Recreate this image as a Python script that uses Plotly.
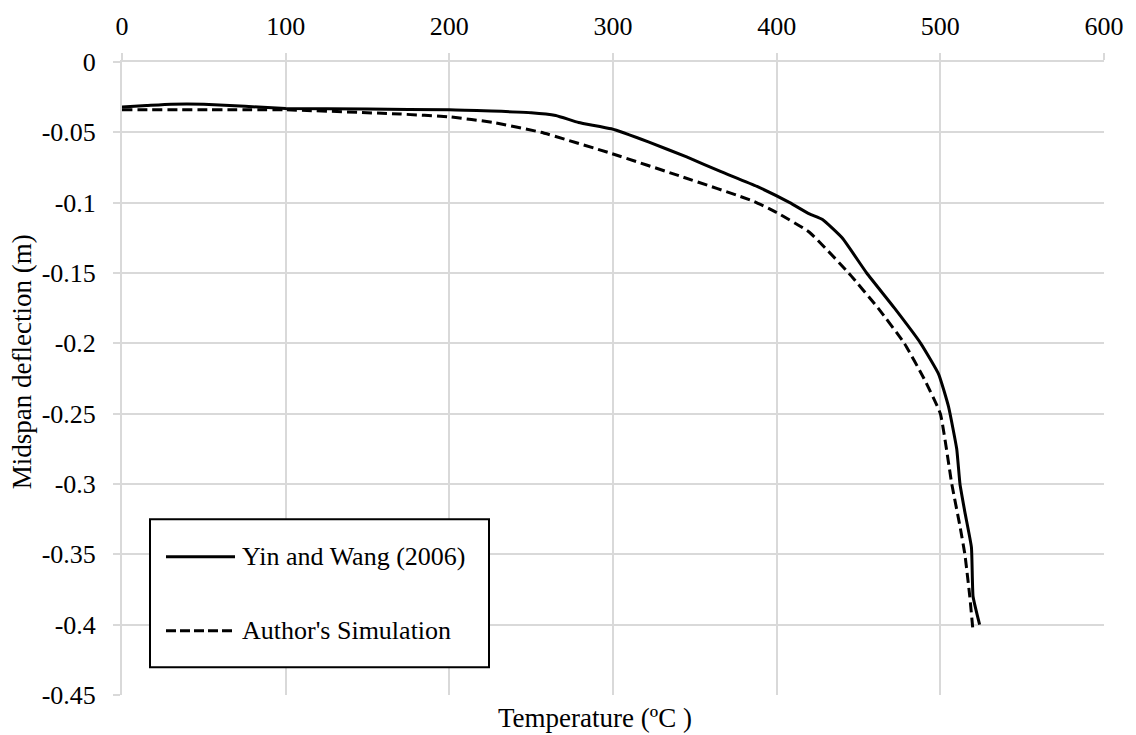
import plotly.graph_objects as go

# Data
yin_temp = [0, 15, 30, 50, 100, 150, 200, 250, 265, 279, 299, 322, 345, 366, 388, 408, 420, 428,
            440, 455, 472, 488, 499, 505, 510, 512, 515, 519, 520, 524]
yin_defl = [-0.032, -0.031, -0.030, -0.030, -0.033, -0.0335, -0.034, -0.036, -0.038, -0.043, -0.0475,
            -0.057, -0.0675, -0.078, -0.0885, -0.100, -0.108, -0.112, -0.125, -0.150, -0.175, -0.200,
            -0.222, -0.245, -0.275, -0.300, -0.320, -0.345, -0.380, -0.400]

sim_temp = [0, 100, 170, 200, 227, 256, 299, 342, 386, 400, 420, 444, 462, 478, 490, 500, 507,
            512, 515, 518, 520]
sim_defl = [-0.034, -0.034, -0.037, -0.039, -0.043, -0.050, -0.065, -0.0815, -0.099, -0.107, -0.121,
            -0.150, -0.175, -0.200, -0.225, -0.250, -0.300, -0.330, -0.350, -0.380, -0.405]

x_ticks = [0, 100, 200, 300, 400, 500, 600]
y_ticks = [0, -0.05, -0.1, -0.15, -0.2, -0.25, -0.3, -0.35, -0.4, -0.45]
y_ticktext = ["0", "-0.05", "-0.1", "-0.15", "-0.2", "-0.25", "-0.3", "-0.35", "-0.4", "-0.45"]

series_names = ["Yin and Wang (2006)", "Author's Simulation"]
x_title = "Temperature (ºC )"
y_title = "Midspan deflection (m)"

FONT = "Liberation Serif"
FS = 26
FT = 27
GRID = "#d9d9d9"
W, H = 1136, 735
L, R, T, B = 122, 32, 54, 40

fig = go.Figure()
fig.add_trace(go.Scatter(x=yin_temp, y=yin_defl, mode="lines", name=series_names[0],
                         line=dict(color="black", width=3, shape="spline", smoothing=0.4),
                         showlegend=False))
fig.add_trace(go.Scatter(x=sim_temp, y=sim_defl, mode="lines", name=series_names[1],
                         line=dict(color="black", width=3, dash="10px,5px", shape="spline", smoothing=0.4),
                         showlegend=False))

fig.update_layout(
    width=W, height=H,
    margin=dict(l=L, r=R, t=T, b=B),
    paper_bgcolor="white", plot_bgcolor="white",
    font=dict(family=FONT, size=FS, color="black"),
)
fig.update_xaxes(side="top", range=[0, 600], tickvals=x_ticks,
                 showgrid=True, gridcolor=GRID, gridwidth=2,
                 showline=True, linecolor=GRID, linewidth=2,
                 ticks="outside", ticklen=7, tickcolor=GRID, tickwidth=2,
                 ticklabelstandoff=8, zeroline=False,
                 tickfont=dict(family=FONT, size=FS, color="black"))
fig.update_yaxes(range=[-0.45, 0], tickvals=y_ticks, ticktext=y_ticktext,
                 showgrid=True, gridcolor=GRID, gridwidth=2,
                 showline=True, linecolor=GRID, linewidth=2,
                 ticks="outside", ticklen=7, tickcolor=GRID, tickwidth=2,
                 ticklabelstandoff=12, zeroline=False,
                 tickfont=dict(family=FONT, size=FS, color="black"))


def pxx(p):
    return (p - L) / (W - L - R)


def pxy(p):
    return (H - B - p) / (H - T - B)


shapes = []
annotations = []
# legend box
shapes.append(dict(type="rect", xref="paper", yref="paper",
                   x0=pxx(150), x1=pxx(489), y0=pxy(667), y1=pxy(517),
                   line=dict(color="black", width=2), fillcolor="white", layer="above"))

for i, (yy, dash) in enumerate([(555, "solid"), (630, "10px,4px")]):
    shapes.append(dict(type="line", xref="paper", yref="paper",
                       x0=pxx(166), x1=pxx(235), y0=pxy(yy), y1=pxy(yy),
                       line=dict(color="black", width=3, dash=dash), layer="above"))
    annotations.append(dict(xref="paper", yref="paper", x=pxx(240), y=pxy(yy),
                            xanchor="left", yanchor="middle", showarrow=False,
                            text=series_names[i], font=dict(family=FONT, size=FS, color="black")))

annotations.append(dict(xref="paper", yref="paper", x=pxx(496), y=pxy(718),
                        xanchor="left", yanchor="middle", showarrow=False,
                        text=x_title, font=dict(family=FONT, size=FT, color="black")))
annotations.append(dict(xref="paper", yref="paper", x=pxx(22), y=pxy(358),
                        xanchor="center", yanchor="middle", showarrow=False, textangle=-90,
                        text=y_title, font=dict(family=FONT, size=FT, color="black")))

fig.update_layout(shapes=shapes, annotations=annotations)
fig.write_html("out.html")
